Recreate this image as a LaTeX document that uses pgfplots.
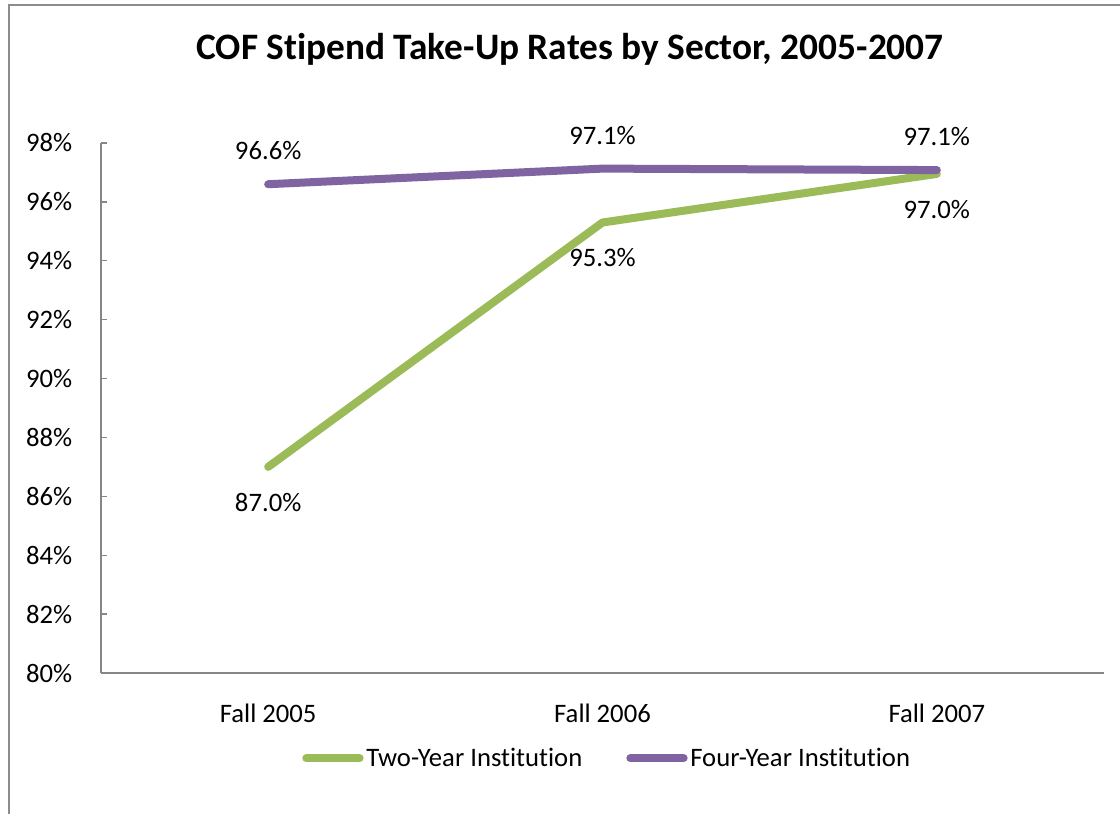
\documentclass[border=0pt]{standalone}
\usepackage{fontspec}
\setmainfont[RawFeature={-liga;-dlig;-clig;-calt}]{Carlito}
\usepackage{pgfplots}
\pgfplotsset{compat=1.18}
\definecolor{axgray}{HTML}{868686}
\definecolor{framegray}{HTML}{8C8C8C}
\definecolor{cgreen}{HTML}{9BBB59}
\definecolor{cpurple}{HTML}{8064A2}
\begin{document}
\begin{tikzpicture}
\useasboundingbox (0,0) rectangle (840pt,610.5pt);
\fill[white] (0,0) rectangle (840pt,610.5pt);
\draw[framegray, line width=1.2pt] (6.75pt,0) -- (6.75pt,606.75pt) -- (841pt,606.75pt);
\node[font=\fontsize{28}{33}\selectfont\bfseries] at (427.5pt,573.5pt) {COF Stipend Take-Up Rates by Sector, 2005-2007};
\begin{axis}[
  at={(75.75pt,105.75pt)}, anchor=south west,
  scale only axis, width=752.25pt, height=397.5pt,
  xmin=-0.5, xmax=2.5, ymin=80, ymax=98,
  axis x line*=bottom, axis y line*=left,
  axis line style={axgray, line width=1pt, -},
  xtick={0,1,2}, xticklabels={Fall 2005,Fall 2006,Fall 2007},
  major x tick style={draw=none},
  ytick={80,82,...,98},
  tick align=inside, major tick length=4.5pt,
  y tick style={axgray, line width=1pt},
  yticklabel={\pgfmathprintnumber{\tick}\%},
  /pgf/number format/assume math mode=true,
  tick label style={font=\fontsize{20}{24}\selectfont, text=black},
  yticklabel style={xshift=-18pt},
  xticklabel style={yshift=-20pt},
  legend style={at={(0.505,-0.161)}, anchor=center, draw=none, fill=none,
    font=\fontsize{20}{24}\selectfont, legend columns=2,
    /tikz/every even column/.append style={column sep=31pt}},
  legend image code/.code={\draw[#1, line cap=round] (0pt,0pt) -- (40pt,0pt);},
  nodes near coords={\pgfmathprintnumber[fixed,fixed zerofill,precision=1]{\pgfplotspointmeta}\%},
  point meta=explicit,
  clip=false,
]
\addplot[cgreen, line width=6pt, line cap=round, line join=round,
  every node near coord/.append style={anchor=center, yshift=-26.5pt, text=black, font=\fontsize{20}{24}\selectfont}]
  coordinates {(0,87.0) [87.0] (1,95.3) [95.3] (2,96.95) [97.0]};
\addlegendentry{Two-Year Institution}
\addplot[cpurple, line width=6pt, line cap=round, line join=round,
  every node near coord/.append style={anchor=center, yshift=25pt, text=black, font=\fontsize{20}{24}\selectfont}]
  coordinates {(0,96.6) [96.6] (1,97.13) [97.1] (2,97.08) [97.1]};
\addlegendentry{Four-Year Institution}
\end{axis}
\end{tikzpicture}
\end{document}
